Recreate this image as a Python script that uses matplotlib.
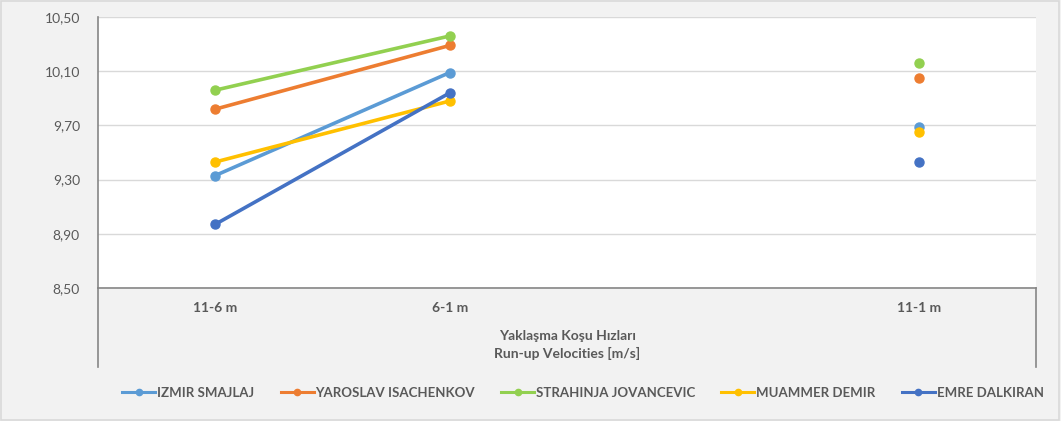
import numpy as np
import matplotlib
matplotlib.use("Agg")
import matplotlib.pyplot as plt
from matplotlib.patches import Rectangle
from matplotlib.lines import Line2D

plt.rcParams["font.family"] = ["Lato", "DejaVu Sans"]

categories = ["11-6 m", "6-1 m", "", "11-1 m"]
athletes = ["IZMIR SMAJLAJ", "YAROSLAV ISACHENKOV", "STRAHINJA JOVANCEVIC",
            "MUAMMER DEMIR", "EMRE DALKIRAN"]
izmir = [9.33, 10.09, np.nan, 9.69]
yaroslav = [9.82, 10.29, np.nan, 10.05]
strahinja = [9.96, 10.36, np.nan, 10.16]
muammer = [9.43, 9.88, np.nan, 9.65]
emre = [8.97, 9.94, np.nan, 9.43]
series = [izmir, yaroslav, strahinja, muammer, emre]
colors = ["#5B9BD5", "#ED7D31", "#92D050", "#FFC000", "#4472C4"]
y_ticks = [8.5, 8.9, 9.3, 9.7, 10.1, 10.5]

W, H = 1061, 421
fig = plt.figure(figsize=(W / 100, H / 100), dpi=100)
fig.patch.set_facecolor("#F2F2F2")
fig.patches.append(Rectangle((0.001, 0.002), 0.997, 0.995, transform=fig.transFigure,
                             fill=False, edgecolor="#D9D9D9", linewidth=1.2))

left, right, top, bottom = 98, 1036, 17, 288
ax = fig.add_axes([left / W, 1 - bottom / H, (right - left) / W, (bottom - top) / H])
ax.set_facecolor("white")

x = np.arange(len(categories))
for name, vals, c in zip(athletes, series, colors):
    ax.plot(x, vals, color=c, linewidth=2.6, marker="o", markersize=6.5,
            label=name, solid_capstyle="round")

ax.set_xlim(-0.5, len(categories) - 0.5)
ax.set_ylim(8.5, 10.5)
ax.set_yticks(y_ticks)
ax.set_yticklabels([f"{v:.2f}".replace(".", ",") for v in y_ticks])
ax.set_xticks(x)
ax.set_xticklabels(categories, fontweight="bold")
ax.tick_params(axis="both", length=0, labelcolor="#595959", labelsize=10)
ax.tick_params(axis="y", pad=13)
ax.tick_params(axis="x", pad=10)
ax.yaxis.grid(True, color="#D9D9D9", linewidth=1)
ax.set_axisbelow(True)
for s in ["top", "right"]:
    ax.spines[s].set_visible(False)
for s in ["left", "bottom"]:
    ax.spines[s].set_color("#868686")
    ax.spines[s].set_linewidth(1.2)

# axis lines extending below the category labels
ext = -(367 - bottom) / (bottom - top)
ax.plot([0, 0], [0, ext], transform=ax.transAxes, color="#868686", lw=1.2, clip_on=False)
ax.plot([1, 1], [0, ext], transform=ax.transAxes, color="#868686", lw=1.2, clip_on=False)

fig.text(0.5 * (left + right) / W, 1 - 345 / H, "Yaklaşma Koşu Hızları\nRun-up Velocities [m/s]",
         ha="center", va="center", fontsize=10, fontweight="bold", color="#595959",
         linespacing=1.5)

handles = [Line2D([], [], color=c, lw=2.2, marker="o", markersize=4.5) for c in colors]
fig.legend(handles, athletes, loc="center", bbox_to_anchor=(583 / W, 1 - 393 / H), ncol=5,
           frameon=False, handlelength=2.5, columnspacing=1.97, handletextpad=0.15,
           labelcolor="#595959", prop={"weight": "bold", "size": 9.5})

fig.savefig("out.png", dpi=100, facecolor=fig.get_facecolor())
